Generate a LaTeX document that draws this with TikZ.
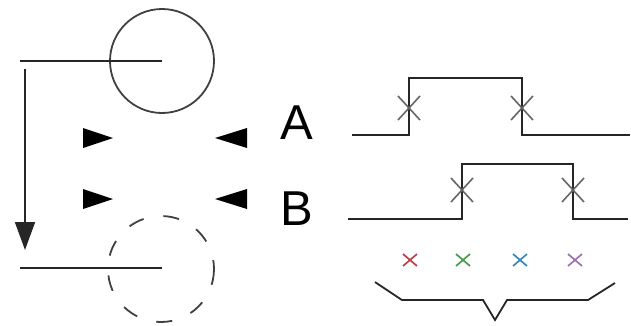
\documentclass[tikz,border=0pt]{standalone}
\usepackage{fontspec}
\setmainfont{Liberation Sans}
\usetikzlibrary{arrows.meta}
\definecolor{xred}{HTML}{C0404A}
\definecolor{xgreen}{HTML}{4A9A50}
\definecolor{xblue}{HTML}{3A8AB8}
\definecolor{xpurple}{HTML}{A070B0}
\begin{document}
\begin{tikzpicture}[x=1pt,y=-1pt,
  line/.style={line width=1.8pt,black!85},
  wave/.style={line width=1.9pt,black!85},
  xmark/.style={line width=1.6pt,black!60},
  cmark/.style={line width=1.7pt},
  tri/.style={fill=black},
  lbl/.style={font=\fontsize{49}{49}\selectfont,inner sep=0pt}]
\useasboundingbox (0,0) rectangle (631,325);
% circles
\draw[line,black!75] (162,61) circle (52);
\draw[line,black!75,dash pattern=on 16pt off 20pt] (161,269) circle (53);
% horizontal lines
\coordinate (t1) at (20,61); \coordinate (t2) at (162,61);
\coordinate (b1) at (20,268); \coordinate (b2) at (162,268);
\draw[line] (t1) -- (t2);
\draw[line] (b1) -- (b2);
% vertical arrow
\coordinate (v1) at (25,69); \coordinate (v2) at (25,250);
\draw[line,-{Triangle[length=28pt,width=20pt]}] (v1) -- (v2);
% triangles
\fill[tri] (83,128) -- (113,138) -- (83,148) -- cycle;
\fill[tri] (247,128) -- (215,138) -- (247,148) -- cycle;
\fill[tri] (83,189) -- (113,199) -- (83,209) -- cycle;
\fill[tri] (247,189) -- (215,199) -- (247,209) -- cycle;
% labels
\node[lbl] (A) at (297,123) {A};
\node[lbl] (B) at (297,209) {B};
% waveforms
\draw[wave] (352,135) -- (409,135) -- (409,78) -- (522,78) -- (522,135) -- (630,135);
\draw[wave] (348,219) -- (462,219) -- (462,164) -- (573,164) -- (573,219) -- (628,219);
% black x marks
\foreach \p in {(409,108),(522,108),(462,190),(573,190)}{
  \draw[xmark] \p ++(-11,-12) -- ++(22,24);
  \draw[xmark] \p ++(-11,12) -- ++(22,-24);
}
% colored x marks
\foreach \p/\c in {(410,260)/xred,(463,260)/xgreen,(520,260)/xblue,(575,260)/xpurple}{
  \draw[cmark,\c] \p ++(-7,-6) -- ++(14,12);
  \draw[cmark,\c] \p ++(-7,6) -- ++(14,-12);
}
% brace
\draw[line,line join=miter] (375,282) -- (402,300) -- (483,300) -- (495,320) -- (507,300) -- (588,300) -- (615,283);
\end{tikzpicture}
\end{document}
